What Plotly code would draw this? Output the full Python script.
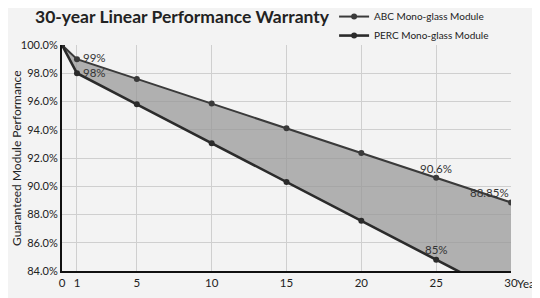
import plotly.graph_objects as go

years = [0, 1, 5, 10, 15, 20, 25, 30]
abc_values = [100, 99, 97.6, 95.85, 94.1, 92.35, 90.6, 88.85]
perc_values = [100, 98, 95.8, 93.05, 90.3, 87.55, 84.8, 82.05]
x_ticks = [0, 1, 5, 10, 15, 20, 25, 30]
y_ticks = [84, 86, 88, 90, 92, 94, 96, 98, 100]

line_col = "#2b2b2b"
fill_col = "rgba(150,150,150,0.72)"
font_fam = "Lato, Open Sans, sans-serif"

# the page body adds an 8px offset, so the figure is 8px smaller than the window
W, H = 532, 290

fig = go.Figure()
# fill band between the two series
fig.add_trace(go.Scatter(x=years, y=perc_values, mode="lines", line=dict(width=0),
                         showlegend=False, hoverinfo="skip"))
fig.add_trace(go.Scatter(x=years, y=abc_values, mode="lines", line=dict(width=0),
                         fill="tonexty", fillcolor=fill_col, showlegend=False, hoverinfo="skip"))
# visible lines
fig.add_trace(go.Scatter(
    x=years, y=abc_values, name="ABC Mono-glass Module",
    mode="lines+markers", line=dict(color="#3a3a3a", width=2),
    marker=dict(size=6, color="#3a3a3a")))
fig.add_trace(go.Scatter(
    x=years, y=perc_values, name="PERC Mono-glass Module",
    mode="lines+markers", line=dict(color=line_col, width=2.6),
    marker=dict(size=6, color=line_col)))

labels = [
    (1, 99, "99%", "left", "middle", 4, 2),
    (1, 98, "98%", "left", "middle", 4, 1),
    (25, 90.6, "90.6%", "center", "bottom", 0, 1),
    (30, 88.85, "88.85%", "right", "bottom", 0, 1),
    (25, 84.8, "85%", "center", "bottom", 0, 2),
]
for x, y, t, xa, ya, dx, dy in labels:
    fig.add_annotation(x=x, y=y, text=t, showarrow=False, xanchor=xa, yanchor=ya,
                       xshift=dx, yshift=dy, font=dict(size=11.5, color="#333", family=font_fam))

fig.add_annotation(x=1, y=0, xref="paper", yref="paper", text="Year", showarrow=False,
                   xanchor="left", yanchor="top", xshift=4, yshift=-4,
                   font=dict(size=11.5, color="#222", family=font_fam))

# y-axis title
fig.add_annotation(x=0, y=0.5, xref="paper", yref="paper", text="Guaranteed Module Performance",
                   textangle=-90, showarrow=False, xanchor="center", yanchor="middle",
                   xshift=-46, font=dict(size=12, color="#222", family=font_fam))

fig.update_layout(
    width=W, height=H,
    margin=dict(l=54, r=29, t=37, b=27, autoexpand=False),
    paper_bgcolor="#f3f3f3", plot_bgcolor="#f3f3f3",
    font=dict(family=font_fam, color="#222"),
    title=dict(text="<b>30-year Linear Performance Warranty</b>", xref="container", x=27/W,
               xanchor="left", yref="container", y=1 - 3/H, yanchor="top",
               pad=dict(t=0, b=0, l=0, r=0),
               font=dict(size=17.5, color="#222", family=font_fam)),
    legend=dict(xref="paper", yref="paper", x=0.606, y=1.19, xanchor="left",
                yanchor="top", font=dict(size=10, color="#222", family=font_fam),
                bgcolor="rgba(0,0,0,0)", itemwidth=30, tracegroupgap=0,
                traceorder="normal"),
    showlegend=True,
)
fig.update_xaxes(range=[0, 30], tickvals=x_ticks, ticktext=[str(v) for v in x_ticks],
                 showgrid=True, gridcolor="#cfcfcf", gridwidth=1, automargin=False,
                 showline=True, linecolor="#111", linewidth=2, zeroline=False,
                 ticks="", tickfont=dict(size=11.5, color="#222", family=font_fam))
fig.update_yaxes(range=[84, 100], tickvals=y_ticks, ticktext=[f"{v:.1f}%" for v in y_ticks],
                 showgrid=True, gridcolor="#cfcfcf", gridwidth=1, automargin=False,
                 showline=True, linecolor="#111", linewidth=2, zeroline=False,
                 ticks="", tickfont=dict(size=11, color="#222", family=font_fam))

fig.write_html("out.html")
